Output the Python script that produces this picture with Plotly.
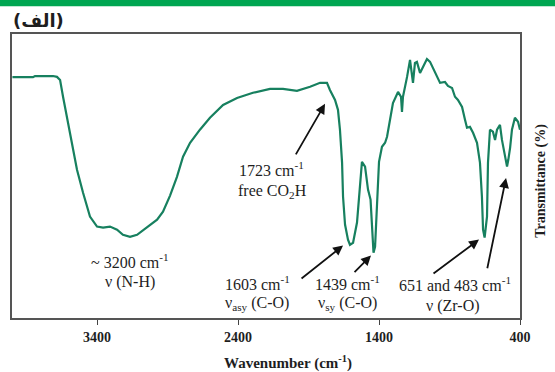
import plotly.graph_objects as go

# FTIR spectrum (wavenumber, cm-1) and transmittance (%, arbitrary scale 0-100)
wavenumber = [4000, 3854, 3840, 3712, 3684, 3662, 3641, 3613, 3577, 3542, 3499, 3450,
              3400, 3357, 3308, 3258, 3216, 3166, 3116, 3045, 2974, 2932, 2882, 2833,
              2790, 2740, 2670, 2599, 2506, 2407, 2294, 2173, 2081, 1982, 1889, 1818,
              1769, 1748, 1712, 1691, 1677, 1662, 1655, 1641, 1620, 1606, 1584, 1556,
              1535, 1521, 1499, 1478, 1460, 1448, 1439, 1428, 1414, 1400, 1379, 1357,
              1343, 1322, 1301, 1265, 1244, 1237, 1230, 1201, 1180, 1159, 1145, 1131,
              1109, 1088, 1060, 1038, 1003, 967, 932, 911, 882, 861, 840, 811, 790,
              776, 755, 733, 705, 684, 670, 662, 651, 634, 627, 613, 592, 577, 563,
              542, 528, 506, 492, 483, 470, 457, 436, 414, 400]
transmittance = [84.8, 84.8, 85.2, 85.2, 84.9, 83.8, 77.9, 70.8, 61.7, 52.2, 44.1, 35.7,
                 32.2, 31.8, 32.2, 31.1, 29.3, 28.6, 29.3, 31.8, 34.6, 37.4, 43.1, 49.7,
                 56.8, 61.7, 66.3, 70.5, 75.0, 77.5, 79.3, 80.7, 80.7, 80.0, 81.4, 82.8,
                 82.8, 80.3, 76.8, 73.3, 66.3, 54.7, 42.7, 32.9, 27.6, 25.8, 26.5, 33.6,
                 48.7, 55.0, 53.3, 45.2, 41.7, 31.1, 23.0, 25.1, 40.6, 55.0, 60.3, 61.7,
                 63.8, 69.8, 75.7, 79.6, 77.9, 72.6, 77.9, 84.9, 90.9, 82.8, 89.8, 90.2,
                 86.3, 88.4, 91.2, 90.2, 86.3, 82.8, 83.1, 81.7, 81.0, 77.9, 76.8, 74.3,
                 69.8, 67.0, 67.3, 65.2, 61.7, 54.7, 42.7, 31.1, 28.3, 35.7, 54.7, 66.3,
                 65.6, 62.7, 66.3, 68.0, 62.7, 56.8, 53.3, 55.7, 60.0, 66.3, 70.5, 69.1,
                 66.3]

tick_values = [3400, 2400, 1400, 400]
tick_labels = ["3400", "2400", "1400", "400"]

x_title = "Wavenumber (cm<sup>-1</sup>)"
y_title = "Transmittance (%)"
panel_label = "(الف)"

SERIF = "Liberation Serif, Times New Roman, serif"
TXT = "#1e1e1e"

fig = go.Figure()
fig.add_trace(go.Scatter(x=wavenumber, y=transmittance, mode="lines",
                         line=dict(color="#17805f", width=2.2), hoverinfo="skip",
                         showlegend=False))

fig.update_layout(
    width=555, height=372,
    margin=dict(l=12, r=35, t=34, b=54),
    paper_bgcolor="white", plot_bgcolor="white",
    xaxis=dict(range=[4003, 400], tickvals=tick_values, ticktext=tick_labels,
               ticks="outside", ticklen=5, tickwidth=1.2, tickcolor="#444",
               showline=True, mirror=True, linecolor="#555", linewidth=1.6,
               showgrid=False, zeroline=False,
               tickfont=dict(family=SERIF, size=14, color=TXT, weight="bold")),
    yaxis=dict(range=[0, 100], showticklabels=False, ticks="",
               showline=True, mirror=True, linecolor="#555", linewidth=1.6,
               showgrid=False, zeroline=False),
)

# green banner at top
fig.add_shape(type="rect", xref="paper", yref="paper", x0=-0.05, x1=1.1,
              y0=1.098, y1=1.13, fillcolor="#00a651", line=dict(width=0), layer="above")

def label(x, y, text, xref="x", yref="y", size=16, bold=False, angle=0, family=SERIF):
    if bold:
        text = "<b>" + text + "</b>"
    fig.add_annotation(x=x, y=y, xref=xref, yref=yref, text=text, showarrow=False,
                       textangle=angle, xanchor="center", yanchor="middle",
                       font=dict(family=family, size=size, color=TXT))

def arrow(x_head, y_head, x_tail, y_tail):
    fig.add_annotation(x=x_head, y=y_head, ax=x_tail, ay=y_tail, xref="x", yref="y",
                       axref="x", ayref="y", text="", showarrow=True, arrowhead=2,
                       arrowsize=1.1, arrowwidth=1.8, arrowcolor="#111")

label(3166, 20.2, "~ 3200 cm<sup>-1</sup>")
label(3166, 12.8, "ν (N-H)")
label(2159, 52.6, "1723 cm<sup>-1</sup>")
label(2152, 44.5, "free CO<sub>2</sub>H")
label(2265, 12.5, "1603 cm<sup>-1</sup>")
label(2265, 5.1, "ν<sub>asy</sub> (C-O)")
label(1620, 12.5, "1439 cm<sup>-1</sup>")
label(1627, 5.1, "ν<sub>sy</sub> (C-O)")
label(861, 11.8, "651 and 483 cm<sup>-1</sup>")
label(875, 4.4, "ν (Zr-O)")

arrow(1783, 75.4, 1996, 57.1)
arrow(1655, 25.5, 1960, 13.5)
arrow(1457, 22.0, 1584, 15.6)
arrow(691, 27.6, 1024, 15.3)
arrow(499, 49.3, 634, 17.0)

label(0.543, -0.156, x_title, xref="paper", yref="paper", size=15, bold=True)
label(1.0414, 0.483, y_title, xref="paper", yref="paper", size=14, bold=True, angle=-90)
label(0.052, 1.048, panel_label, xref="paper", yref="paper", size=18, bold=True,
      family="DejaVu Sans, sans-serif")

fig.write_html("out.html")
